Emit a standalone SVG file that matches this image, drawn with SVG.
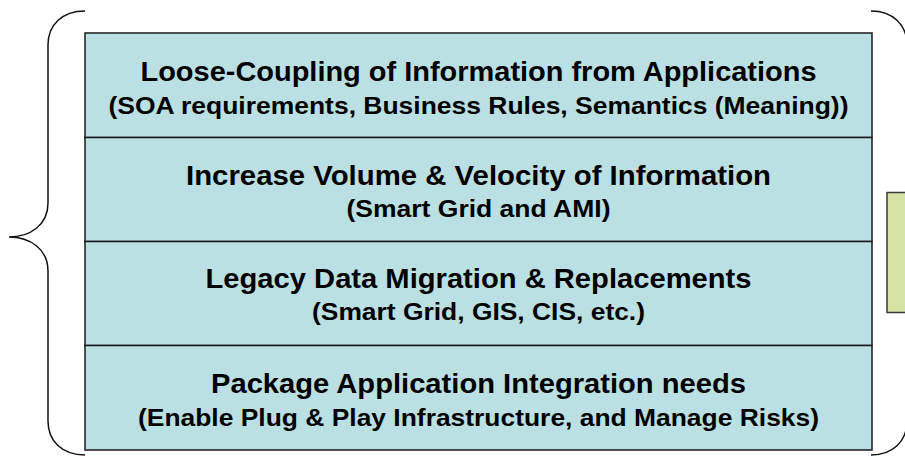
<svg xmlns="http://www.w3.org/2000/svg" width="905" height="461" viewBox="0 0 905 461">
  <style>
    .row { fill: #BBE0E3; stroke: #1a1a1a; stroke-width: 1.5; }
    .brace { fill: none; stroke: #111; stroke-width: 1.5; }
    .t1 { font-family: "Liberation Sans", Arial, sans-serif; font-weight: bold; font-size: 28px; fill: #000; text-anchor: middle; }
    .t2 { font-family: "Liberation Sans", Arial, sans-serif; font-weight: bold; font-size: 24px; fill: #000; text-anchor: middle; }
    .note { fill: #D7E3A5; stroke: #3a3a3a; stroke-width: 1.5; }
  </style>
  <rect width="905" height="461" fill="#ffffff"/>
  <g id="braces">
    <path class="brace" d="M 85 11 C 62 11 48 25 48 45 L 48 203 C 48 225 30 237 9 237 C 30 237 48 249 48 271 L 48 421 C 48 441 62 455 85 455"/>
    <path class="brace" d="M 871 11 C 893 11 907 25 907 45 L 907 421 C 907 441 893 455 871 455"/>
  </g>
  <g id="row1">
    <rect class="row" x="85" y="33" width="787" height="104.5"/>
    <text class="t1" x="478.5" y="81" textLength="676" lengthAdjust="spacingAndGlyphs">Loose-Coupling of Information from Applications</text>
    <text class="t2" x="478.5" y="114" textLength="740" lengthAdjust="spacingAndGlyphs">(SOA requirements, Business Rules, Semantics (Meaning))</text>
  </g>
  <g id="row2">
    <rect class="row" x="85" y="137.5" width="787" height="104"/>
    <text class="t1" x="478.5" y="184.5" textLength="585" lengthAdjust="spacingAndGlyphs">Increase Volume &amp; Velocity of Information</text>
    <text class="t2" x="478.5" y="217" textLength="264" lengthAdjust="spacingAndGlyphs">(Smart Grid and AMI)</text>
  </g>
  <g id="row3">
    <rect class="row" x="85" y="241.5" width="787" height="104"/>
    <text class="t1" x="478.5" y="288" textLength="546" lengthAdjust="spacingAndGlyphs">Legacy Data Migration &amp; Replacements</text>
    <text class="t2" x="478.5" y="320" textLength="333" lengthAdjust="spacingAndGlyphs">(Smart Grid, GIS, CIS, etc.)</text>
  </g>
  <g id="row4">
    <rect class="row" x="85" y="345.5" width="787" height="104.5"/>
    <text class="t1" x="478.5" y="393" textLength="535" lengthAdjust="spacingAndGlyphs">Package Application Integration needs</text>
    <text class="t2" x="478.5" y="426" textLength="681" lengthAdjust="spacingAndGlyphs">(Enable Plug &amp; Play Infrastructure, and Manage Risks)</text>
  </g>
  <g id="note">
    <rect class="note" x="887" y="192.5" width="30" height="120"/>
  </g>
</svg>
